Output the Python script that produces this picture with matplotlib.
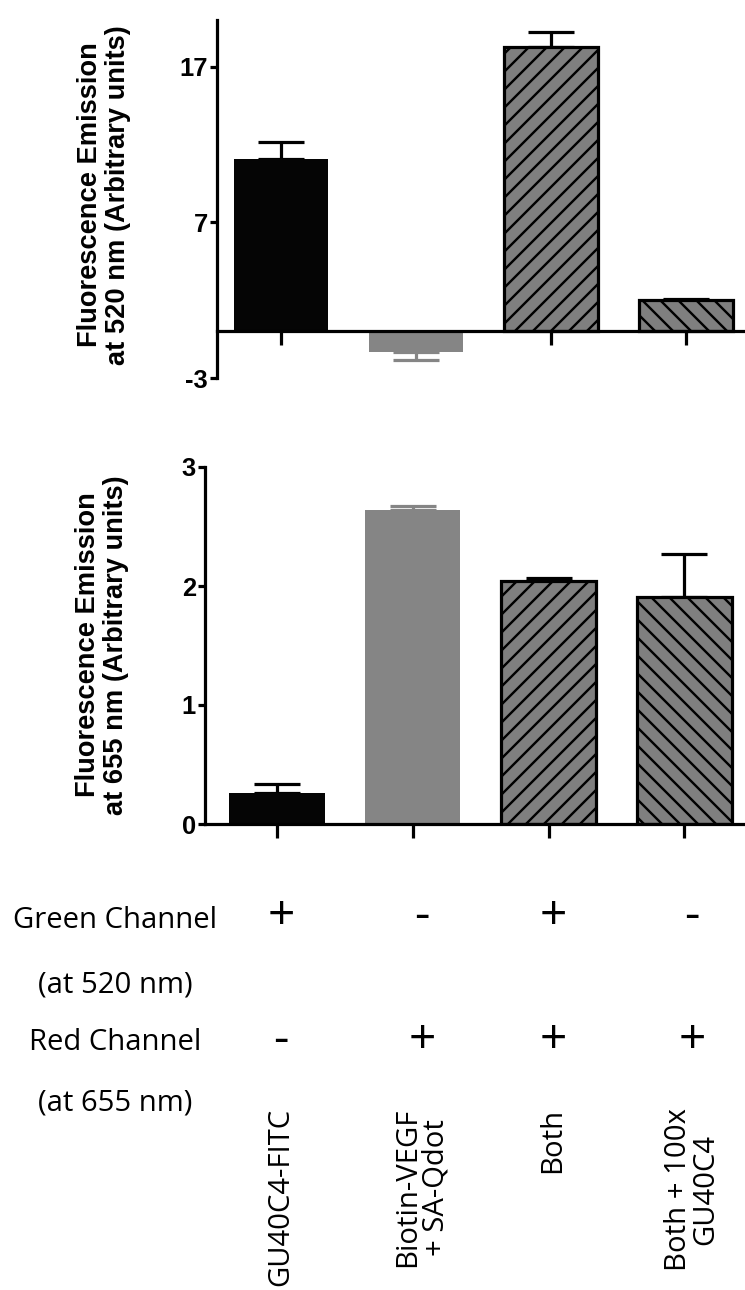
import matplotlib
matplotlib.use("Agg")
import matplotlib.pyplot as plt
import numpy as np

# ---------------- data ----------------
categories = ["GU40C4-FITC", "Biotin-VEGF\n+ SA-Qdot", "Both", "Both + 100x\nGU40C4"]
green_520 = [11.1, -1.35, 18.25, 2.0]
green_520_err = [1.05, 0.5, 1.0, 0.08]
red_655 = [0.26, 2.64, 2.04, 1.91]
red_655_err = [0.08, 0.03, 0.03, 0.36]
green_channel = ["+", "-", "+", "-"]
red_channel = ["-", "+", "+", "+"]
top_ticks = [-3, 7, 17]
bottom_ticks = [0, 1, 2, 3]
top_ylabel = "Fluorescence Emission\nat 520 nm (Arbitrary units)"
bottom_ylabel = "Fluorescence Emission\nat 655 nm (Arbitrary units)"
row_labels = ["Green Channel", "(at 520 nm)", "Red Channel", "(at 655 nm)"]

# ---------------- style ----------------
W, H, DPI = 745, 1290, 108
fig = plt.figure(figsize=(W / DPI, H / DPI), dpi=DPI)

faces = ["#050505", "#858585", "#7f7f7f", "#7f7f7f"]
edges = ["#050505", "#858585", "#000000", "#000000"]
hatches = [None, None, "//", "\\\\"]
ecolors = ["#000000", "#858585", "#000000", "#000000"]
lw_px = 3.2
LW = lw_px * 72 / DPI
tick_font = dict(family=["Liberation Sans", "DejaVu Sans"], size=17, weight="bold")
label_font = dict(family=["Liberation Sans", "DejaVu Sans"], size=18.2, weight="bold")
table_font = ["Open Sans", "DejaVu Sans"]

plt.rcParams["hatch.linewidth"] = 1.6


def px_axes(left, right, top, bottom):
    return fig.add_axes([left / W, 1 - bottom / H, (right - left) / W, (bottom - top) / H])


def style_axes(ax):
    for s in ["top", "right"]:
        ax.spines[s].set_visible(False)
    for s in ["left", "bottom"]:
        ax.spines[s].set_linewidth(LW)
    ax.tick_params(axis="y", length=5, width=LW, pad=1)
    ax.tick_params(axis="x", length=9.5, width=LW, labelbottom=False, direction="out")
    ax.patch.set_alpha(0)


def draw_bars(ax, vals, errs):
    x = np.arange(len(vals))
    for i in range(len(vals)):
        ax.bar(x[i], vals[i], width=0.70, color=faces[i], edgecolor=edges[i],
               linewidth=LW if hatches[i] else 0, hatch=hatches[i], zorder=2)
        if vals[i] >= 0:
            yerr = [[0], [errs[i]]]
        else:
            yerr = [[errs[i]], [0]]
        ax.errorbar(x[i], vals[i], yerr=yerr, fmt="none", ecolor=ecolors[i],
                    elinewidth=LW, capsize=15.5, capthick=LW, zorder=1.5)
    ax.set_xticks(x)


# ---------------- top panel ----------------
ax1 = px_axes(217, 745, 20, 378)
draw_bars(ax1, green_520, green_520_err)
ax1.set_xlim(-0.474, 3.437)
ax1.set_ylim(-3, 20)
ax1.spines["bottom"].set_position(("data", 0))
ax1.spines["left"].set_bounds(-3, 20)
ax1.set_yticks(top_ticks)
ax1.set_yticklabels([str(t) for t in top_ticks], **tick_font)
style_axes(ax1)
ax1.tick_params(axis="x", length=9.5, pad=0)

# ---------------- bottom panel ----------------
ax2 = px_axes(205, 745, 467, 824)
draw_bars(ax2, red_655, red_655_err)
ax2.set_xlim(-0.53, 3.446)
ax2.set_ylim(0, 3)
ax2.set_yticks(bottom_ticks)
ax2.set_yticklabels([str(t) for t in bottom_ticks], **tick_font)
style_axes(ax2)

# ---------------- y labels ----------------
fig.text(104 / W, 1 - 195 / H, top_ylabel, rotation=90, ha="center", va="center",
         multialignment="center", linespacing=1.1, **label_font)
fig.text(102 / W, 1 - 645 / H, bottom_ylabel, rotation=90, ha="center", va="center",
         multialignment="center", linespacing=1.1, **label_font)

# ---------------- table below ----------------
row_y = [920, 985, 1043, 1103]
for lab, yy in zip(row_labels, row_y):
    fig.text(115 / W, 1 - yy / H, lab, ha="center", va="center", family=table_font, size=19.5)

col_x = [281, 422, 553, 692]
for cx, g, r in zip(col_x, green_channel, red_channel):
    fig.text(cx / W, 1 - 916 / H, g, ha="center", va="center", family=table_font, size=32)
    fig.text(cx / W, 1 - 1040 / H, r, ha="center", va="center", family=table_font, size=32)

for cx, cat in zip(col_x, categories):
    fig.text(cx / W, 1 - 1108 / H, cat, rotation=90, ha="center", va="top",
             multialignment="center", family=table_font, size=19.5, linespacing=0.95)

fig.savefig("out.png", dpi=DPI)
